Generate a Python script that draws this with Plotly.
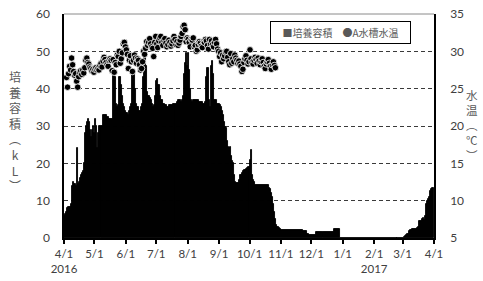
import pandas as pd
import plotly.graph_objects as go

# ---- data: daily culture volume (kL), 2016-04-01 .. 2017-03-31 ----
vol_apr = [6.0, 6.5, 7.0, 8.0, 8.2, 8.2, 8.2, 9.0, 14.0, 15.0, 14.5, 14.5, 14.0, 24.0, 14.5,
           15.0, 16.0, 17.0, 17.5, 18.0, 20.0, 28.0, 30.0, 31.0, 32.0, 31.0, 29.0, 27.0, 29.0, 30.0]
vol_may = [28.0, 32.0, 30.0, 24.0, 28.0, 30.0, 30.0, 30.0, 33.0, 33.0, 33.0, 33.0, 32.5, 32.5, 32.0,
           32.0, 32.0, 32.0, 43.5, 43.5, 43.0, 36.0, 35.0, 35.5, 43.0, 43.0, 41.0, 38.0, 36.0, 35.0, 34.0]
vol_jun = [33.5, 33.5, 33.0, 34.0, 35.0, 36.0, 44.0, 44.5, 44.0, 40.0, 36.0, 35.0, 35.0, 34.0, 34.0,
           35.0, 36.0, 43.0, 49.5, 49.5, 46.0, 39.0, 38.0, 38.0, 37.5, 37.0, 36.0, 35.0, 35.5, 38.0]
vol_jul = [42.0, 42.5, 41.0, 41.0, 38.0, 37.0, 37.0, 36.0, 36.0, 35.5, 35.5, 35.0, 35.0, 35.5, 35.5,
           35.5, 35.5, 36.0, 36.0, 36.0, 36.5, 37.0, 37.0, 37.0, 36.5, 37.0, 38.0, 44.0, 47.0, 49.5, 46.0]
vol_aug = [49.5, 45.0, 40.0, 37.0, 36.5, 37.0, 37.0, 37.0, 37.0, 37.0, 37.0, 36.5, 36.5, 36.5, 36.5,
           36.0, 36.0, 36.5, 43.0, 45.5, 45.5, 37.0, 35.0, 46.0, 47.5, 44.0, 37.0, 37.0, 37.0, 36.0, 36.0]
vol_sep = [36.0, 35.5, 35.0, 34.0, 33.0, 31.0, 29.8, 29.5, 26.0, 24.5, 24.0, 24.5, 22.0, 20.5, 20.0,
           17.0, 15.0, 14.6, 14.6, 14.8, 15.5, 17.0, 17.0, 17.5, 18.0, 18.2, 18.2, 18.5, 18.8, 19.0]
vol_oct = [21.0, 23.6, 17.0, 15.5, 15.0, 14.2, 14.2, 14.2, 14.2, 14.2, 14.2, 14.2, 14.2, 14.2, 14.2,
           14.2, 14.2, 14.2, 14.2, 13.5, 13.0, 12.0, 11.0, 9.0, 7.0, 5.0, 3.5, 3.0, 3.0, 2.8, 2.5]
vol_nov = [2.2, 2.2, 2.2, 2.2, 2.2, 2.2, 2.2, 2.2, 2.2, 2.2, 2.2, 2.2, 2.2, 2.2, 2.2,
           2.2, 2.2, 2.2, 2.2, 2.2, 2.2, 2.2, 1.8, 1.8, 1.8, 1.8, 1.0, 1.0, 0.7, 0.7]
vol_dec = [0.7, 0.7, 0.7, 0.7, 0.7, 1.6, 1.6, 1.6, 1.6, 1.6, 1.6, 1.6, 1.6, 1.6, 1.6,
           1.6, 1.6, 1.6, 1.6, 1.6, 1.6, 1.6, 2.4, 2.4, 2.4, 2.4, 2.4, 2.4, 0.0, 0.0, 0.0]
vol_jan = [0.0, 0.0, 0.0, 0.0, 0.0, 0.0, 0.0, 0.0, 0.0, 0.0, 0.0, 0.0, 0.0, 0.0, 0.0,
           0.0, 0.0, 0.0, 0.0, 0.0, 0.0, 0.0, 0.0, 0.0, 0.0, 0.0, 0.0, 0.0, 0.0, 0.0, 0.0]
vol_feb = [0.0, 0.0, 0.0, 0.0, 0.0, 0.0, 0.0, 0.0, 0.0, 0.0, 0.0, 0.0, 0.0, 0.0,
           0.0, 0.0, 0.0, 0.0, 0.0, 0.0, 0.0, 0.0, 0.0, 0.0, 0.0, 0.0, 0.0, 0.0]
vol_mar = [0.0, 0.3, 0.6, 0.8, 1.0, 1.2, 1.8, 2.1, 2.2, 2.4, 2.4, 2.4, 2.3, 2.4, 2.6,
           3.0, 4.5, 4.6, 4.6, 5.0, 5.3, 4.8, 6.0, 9.0, 10.0, 10.5, 11.0, 12.5, 13.0, 13.4, 13.5]

# ---- data: daily water temperature of tank A (deg C), from 2016-04-03 ----
temp_apr = [26.5, 25.2, 27.0, 28.0, 27.5, 29.1, 28.2, 27.3, 26.8, 27.0, 26.0, 25.2, 26.6, 27.2,
            27.4, 26.9, 27.5, 27.1, 27.8, 28.8, 29.1, 28.5, 28.3, 27.9, 27.7, 27.4, 27.6, 27.2]
temp_may = [27.6, 27.8, 27.5, 27.7, 27.5, 28.1, 28.4, 27.9, 28.7, 29.2, 28.9, 28.5, 28.2, 28.0, 28.8,
            29.0, 28.8, 27.4, 28.9, 27.2, 28.5, 28.2, 29.5, 29.3, 30.0, 28.4, 29.0, 29.8, 31.0, 31.2, 30.6]
temp_jun = [30.2, 29.6, 27.7, 28.8, 29.4, 28.6, 27.3, 28.8, 29.5, 29.1, 28.4, 29.0, 28.8, 28.2, 27.5,
            27.7, 28.6, 30.0, 29.6, 30.4, 31.3, 30.8, 31.2, 31.7, 31.0, 30.6, 30.4, 29.3, 31.2, 32.0]
temp_jul = [31.0, 30.5, 31.4, 31.8, 32.0, 31.2, 30.8, 31.5, 31.7, 31.1, 30.6, 30.9, 31.5, 31.2, 30.7,
            31.0, 31.4, 32.0, 31.6, 30.9, 31.3, 30.8, 31.1, 31.5, 32.0, 32.4, 33.3, 33.5, 32.9, 31.3, 31.8]
temp_aug = [31.6, 31.2, 30.6, 31.6, 31.5, 31.8, 30.6, 30.8, 30.0, 30.2, 30.9, 31.3, 31.1, 30.7, 30.5,
            31.3, 31.2, 31.6, 31.4, 30.8, 30.3, 31.6, 31.0, 31.4, 30.9, 30.6, 31.2, 31.6, 31.0, 30.3, 30.0]
temp_sep = [29.3, 29.8, 28.6, 29.5, 29.0, 29.4, 29.9, 30.0, 29.2, 28.6, 28.2, 29.7, 28.4, 29.0, 28.6,
            29.5, 29.1, 28.8, 28.4, 28.7, 28.3, 28.0, 27.3, 27.6, 28.5, 29.0, 29.4, 28.8, 28.3, 28.6]
temp_oct = [30.2, 29.0, 28.5, 28.3, 28.8, 29.2, 28.9, 28.4, 29.1, 28.7, 28.2, 28.6, 29.0, 28.5, 28.0,
            27.7, 28.3, 28.6, 28.9, 28.4, 28.0, 27.6, 28.2, 28.6, 28.1, 27.8]

tick_vals = ["2016-04-01", "2016-05-01", "2016-06-01", "2016-07-01", "2016-08-01", "2016-09-01",
             "2016-10-01", "2016-11-01", "2016-12-01", "2017-01-01", "2017-02-01", "2017-03-01",
             "2017-04-01"]
tick_text = ["4/1<br>2016", "5/1", "6/1", "7/1", "8/1", "9/1", "10/1", "11/1", "12/1", "1/1",
             "2/1<br>2017", "3/1", "4/1"]

vol = (vol_apr + vol_may + vol_jun + vol_jul + vol_aug + vol_sep + vol_oct + vol_nov + vol_dec
       + vol_jan + vol_feb + vol_mar)
temp = temp_apr + temp_may + temp_jun + temp_jul + temp_aug + temp_sep + temp_oct

vol_dates = pd.date_range("2016-04-01", periods=len(vol), freq="D") + pd.Timedelta(hours=12)
temp_dates = pd.date_range("2016-04-03", periods=len(temp), freq="D") + pd.Timedelta(hours=12)

JP = "Noto Sans CJK JP"
NUM = "Lato, Noto Sans CJK JP"
GRAY = "#404040"

fig = go.Figure()
fig.add_trace(go.Bar(
    x=vol_dates, y=vol, name="培養容積",
    marker=dict(color="black", line=dict(color="black", width=0.9)),
))
fig.add_trace(go.Scatter(
    x=temp_dates, y=temp, name="A水槽水温", mode="markers", yaxis="y2",
    marker=dict(color="black", size=6.5, line=dict(color="white", width=0.8)),
))

fig.update_layout(
    width=483, height=281,
    margin=dict(l=64, r=49, t=14, b=43, autoexpand=False),
    paper_bgcolor="white", plot_bgcolor="white",
    bargap=0,
    showlegend=False,
    font=dict(family=NUM, color=GRAY, size=11),
    xaxis=dict(
        type="date", range=["2016-04-01", "2017-04-01"], automargin=False,
        tickmode="array", tickvals=tick_vals, ticktext=tick_text,
        ticks="outside", ticklen=4, tickcolor="black", tickwidth=1.5,
        showline=True, linecolor="black", linewidth=1.5,
        showgrid=False, zeroline=False,
        tickfont=dict(family=NUM, size=11.5, color=GRAY),
    ),
    yaxis=dict(
        range=[0, 60], dtick=10, tickmode="linear", tick0=0, automargin=False,
        showgrid=True, gridcolor="#3a3a3a", griddash="4px,3px", gridwidth=1,
        showline=True, linecolor="black", linewidth=1.5,
        zeroline=False, ticks="",
        ticklabelstandoff=10,
        tickfont=dict(family=NUM, size=12, color=GRAY),
    ),
    yaxis2=dict(
        range=[5, 35], dtick=5, tickmode="linear", tick0=5, automargin=False,
        overlaying="y", side="right",
        showgrid=False, zeroline=False,
        showline=True, linecolor="black", linewidth=1.5, ticks="",
        ticklabelstandoff=12,
        tickfont=dict(family=NUM, size=12, color=GRAY),
    ),
    shapes=[dict(type="line", xref="paper", yref="paper", x0=0, x1=1, y0=1, y1=1,
                 line=dict(color="#8a8a8a", width=1))],
    annotations=[
        dict(text="培<br>養<br>容<br>積<br>︵<br>k<br>L<br>︶", xref="paper", yref="paper",
             x=-0.133, y=0.478, showarrow=False, xanchor="center", yanchor="middle",
             font=dict(family=JP, size=12, color="#595959"), align="center"),
        dict(text="水<br>温<br>︵<br>℃<br>︶", xref="paper", yref="paper",
             x=1.103, y=0.505, showarrow=False, xanchor="center", yanchor="middle",
             font=dict(family=JP, size=11.5, color="#595959"), align="center"),
        # legend box
        dict(text="■培養容積　●A水槽水温", xref="paper", yref="paper",
             x=0.747, y=0.917, showarrow=False, xanchor="center", yanchor="middle",
             width=133, height=15, borderpad=3, bordercolor="black", borderwidth=1,
             bgcolor="white", font=dict(family=JP, size=10, color="#595959"), align="center"),
    ],
)

fig.write_html("out.html", config={"displayModeBar": False},
               post_script="document.body.style.margin='0px';document.body.style.overflow='hidden';")
